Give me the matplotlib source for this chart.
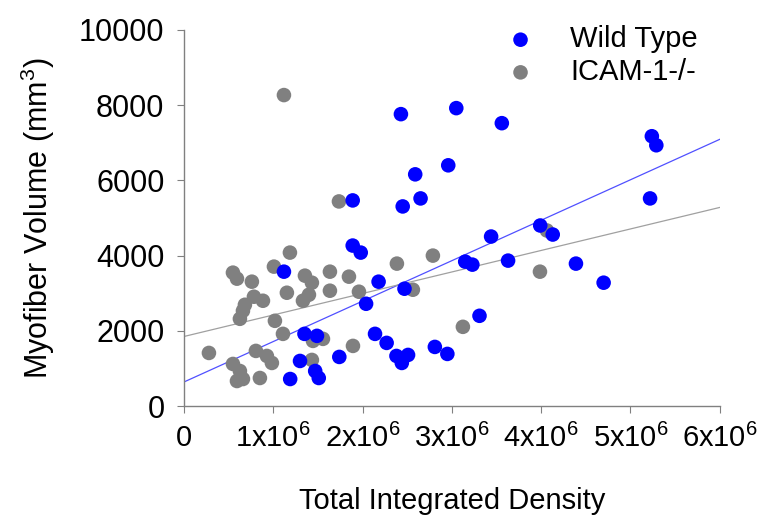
import matplotlib
matplotlib.use("Agg")
import matplotlib.pyplot as plt
import numpy as np

plt.rcParams['font.family'] = ['Liberation Sans', 'DejaVu Sans']
plt.rcParams['mathtext.fontset'] = 'custom'
plt.rcParams['mathtext.rm'] = 'Liberation Sans'
plt.rcParams['mathtext.default'] = 'regular'

# Wild Type (x in units of 1e6)
wt_x = [1.12, 1.89, 1.89, 1.98, 2.43, 3.05, 3.56, 2.96, 2.59, 2.65, 2.45, 3.44, 3.99,
        3.15, 3.23, 3.63, 2.18, 2.47, 2.04, 3.31, 2.14, 2.27, 2.38, 2.44, 2.51, 2.81,
        2.95, 1.74, 1.35, 1.49, 1.30, 1.47, 1.51, 1.19, 5.24, 5.29, 5.22, 4.13, 4.39, 4.70]
wt_y = [3573, 5467, 4267, 4080, 7760, 7920, 7520, 6400, 6160, 5520, 5307, 4507, 4800,
        3840, 3760, 3867, 3307, 3120, 2720, 2400, 1920, 1680, 1333, 1147, 1360, 1573,
        1387, 1307, 1920, 1867, 1200, 933, 747, 720, 7173, 6933, 5520, 4560, 3787, 3280]

# ICAM-1-/-
ko_x = [0.549, 0.594, 0.761, 1.008, 1.187, 0.784, 0.885, 0.683, 0.661, 0.627, 1.019,
        1.355, 1.433, 1.635, 1.848, 1.153, 1.635, 1.400, 1.333, 1.960, 1.109, 1.445,
        1.557, 1.893, 0.280, 0.549, 0.627, 0.594, 0.661, 0.851, 0.806, 0.929, 0.985,
        1.433, 1.120, 1.736, 2.385, 2.788, 2.564, 3.124, 4.065, 3.987]
ko_y = [3547, 3387, 3307, 3707, 4080, 2907, 2800, 2693, 2533, 2320, 2267,
        3467, 3280, 3573, 3440, 3013, 3067, 2960, 2800, 3040, 1920, 1733,
        1787, 1600, 1413, 1120, 933, 667, 720, 747, 1467, 1333, 1147,
        1227, 8267, 5440, 3787, 4000, 3093, 2107, 4667, 3573]

# regression lines (value at x=0 and x=6e6)
fit_x = [0, 6]
wt_fit = [640, 7090]
ko_fit = [1850, 5280]

xticks = [0, 1, 2, 3, 4, 5, 6]
xlabels = ['0'] + [r'%dx10$^{6}$' % i for i in xticks[1:]]
yticks = [0, 2000, 4000, 6000, 8000, 10000]

fig = plt.figure(figsize=(7.6, 5.24), dpi=100)
ax = fig.add_axes([0.242, 0.225, 0.705, 0.718])

blue = '#0000ff'
grey = '#808080'
ax.plot(np.array(fit_x) * 1e6, wt_fit, color='#5050ff', lw=0.9, zorder=1)
ax.plot(np.array(fit_x) * 1e6, ko_fit, color='#a0a0a0', lw=0.9, zorder=1)
ax.scatter(np.array(wt_x) * 1e6, wt_y, s=110, color=blue, edgecolors='none',
           label='Wild Type', zorder=3)
ax.scatter(np.array(ko_x) * 1e6, ko_y, s=110, color=grey, edgecolors='none',
           label='ICAM-1-/-', zorder=2)

ax.set_xlim(0, 6e6)
ax.set_ylim(0, 10000)
ax.set_xticks([t * 1e6 for t in xticks])
ax.set_xticklabels(xlabels)
ax.set_yticks(yticks)

for s in ['top', 'right']:
    ax.spines[s].set_visible(False)
for s in ['left', 'bottom']:
    ax.spines[s].set_color('#808080')
    ax.spines[s].set_linewidth(1.0)
ax.tick_params(colors='#808080', labelcolor='black', labelsize=22, length=5,
               direction='out')
ax.tick_params(axis='x', labelsize=21, pad=8)
ax.tick_params(axis='y', pad=9)

ax.set_xlabel('Total Integrated Density', fontsize=21, labelpad=24)
ax.set_ylabel('Myofiber Volume (mm$^{3}$)', fontsize=22, labelpad=16)

ax.legend(loc='upper left', bbox_to_anchor=(0.601, 1.012), frameon=False,
          fontsize=21, handletextpad=1.2, labelspacing=0.16, handlelength=1.0,
          borderpad=0, borderaxespad=0, scatterpoints=1)

plt.savefig('out.png', dpi=100)
plt.close(fig)
